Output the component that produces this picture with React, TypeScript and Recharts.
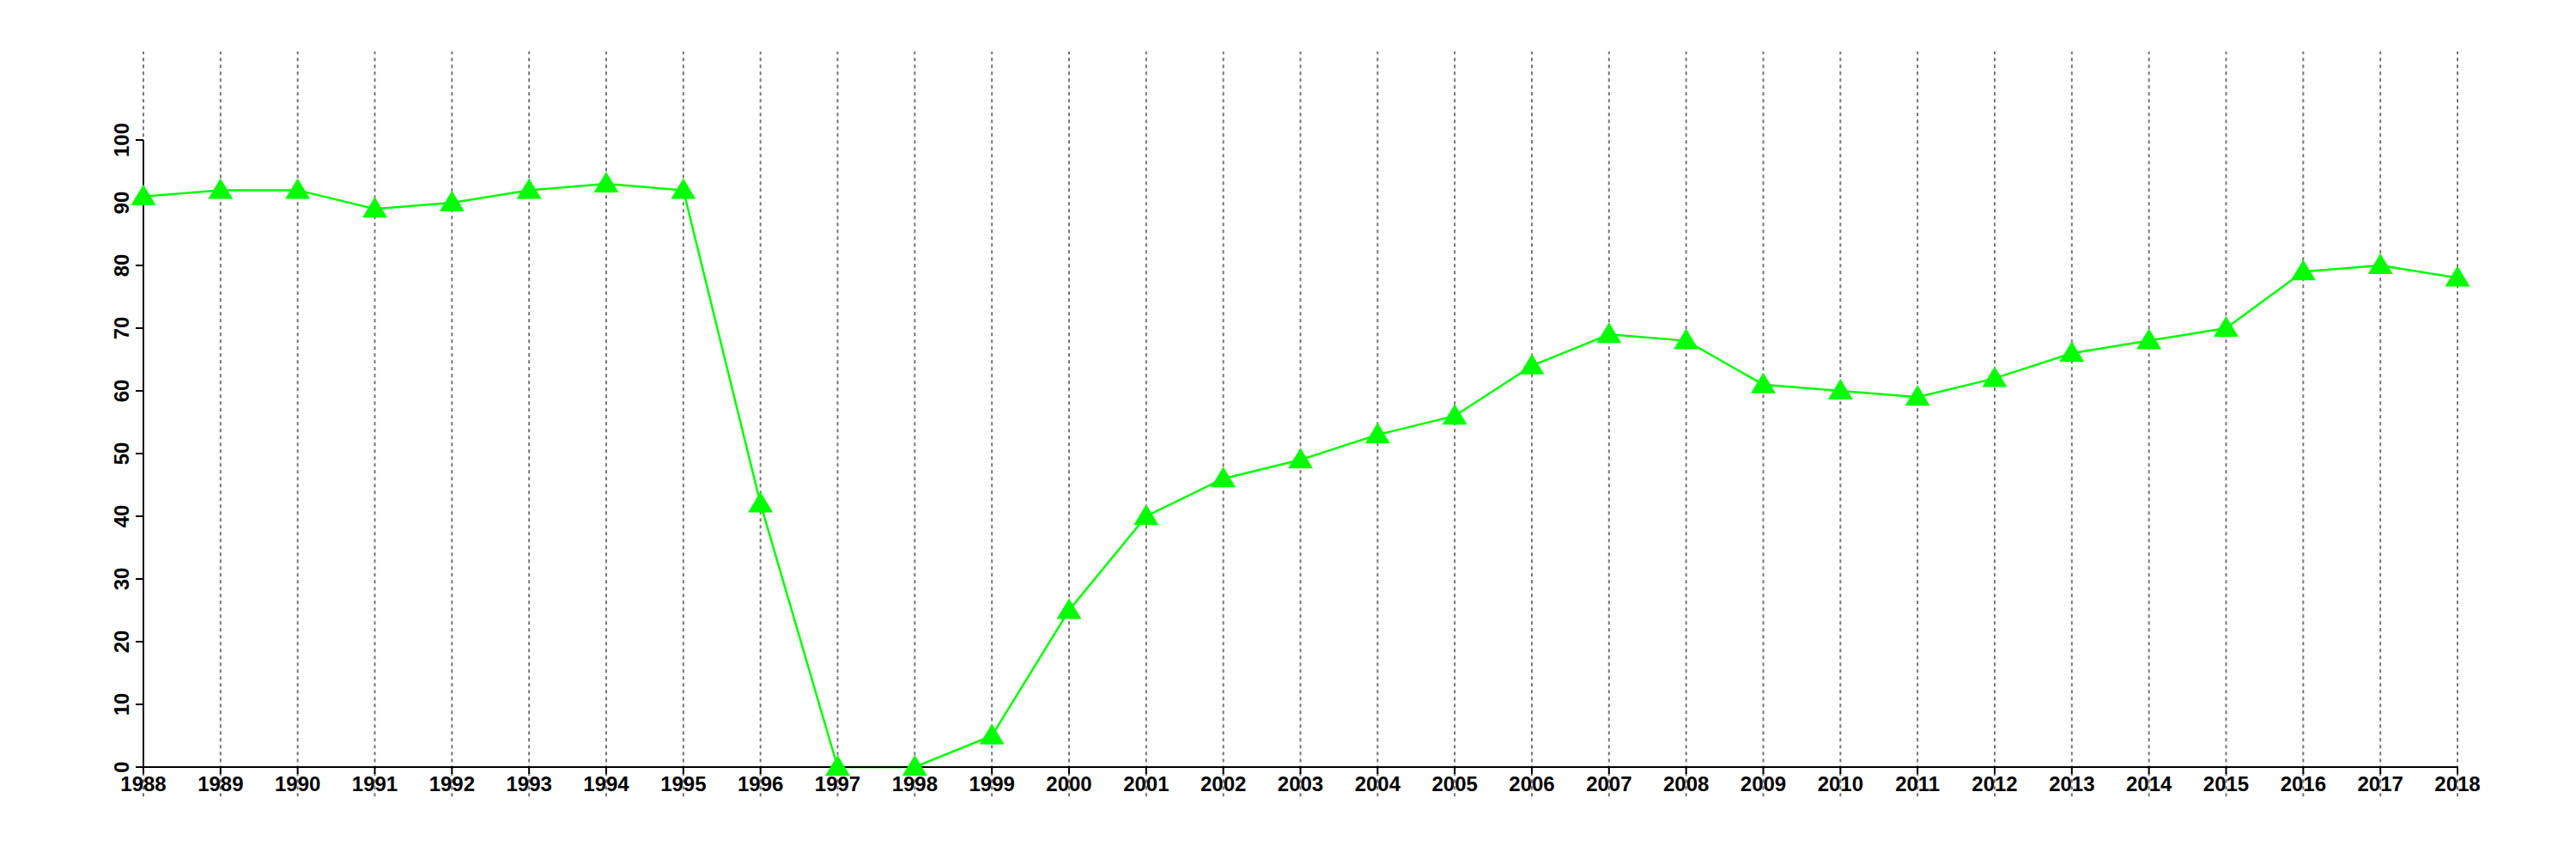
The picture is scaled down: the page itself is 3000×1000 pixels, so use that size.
import React from 'react';
import { LineChart, Line, XAxis, YAxis, ReferenceLine } from 'recharts';

const years = [
  1988, 1989, 1990, 1991, 1992, 1993, 1994, 1995, 1996, 1997, 1998, 1999, 2000, 2001, 2002, 2003,
  2004, 2005, 2006, 2007, 2008, 2009, 2010, 2011, 2012, 2013, 2014, 2015, 2016, 2017, 2018,
];
const values = [
  91, 92, 92, 89, 90, 92, 93, 92, 42, 0, 0, 5, 25, 40, 46, 49, 53, 56, 64, 69, 68, 61, 60, 59, 62, 66,
  68, 70, 79, 80, 78,
];
const yTicks = [0, 10, 20, 30, 40, 50, 60, 70, 80, 90, 100];
// gridlines run past the axis range, like the source
const gridTop = 114.1;
const gridBottom = -4.7;

const data = years.map((year, i) => ({ year, value: values[i] }));

const FONT = '"Liberation Sans", Arial, sans-serif';

function Triangle(props: any) {
  const { cx, cy } = props;
  if (cx == null || cy == null) return null;
  return (
    <polygon
      points={`${cx},${cy - 14} ${cx - 14.5},${cy + 10} ${cx + 14.5},${cy + 10}`}
      fill="#00ff00"
      stroke="none"
    />
  );
}

function XTick(props: any) {
  const { x, y, payload } = props;
  return (
    <text x={x} y={y + 18} textAnchor="middle" fontFamily={FONT} fontWeight="bold" fontSize={24} fill="#000">
      {payload.value}
    </text>
  );
}

function YTick(props: any) {
  const { x, y, payload } = props;
  return (
    <text
      transform={`translate(${x - 6}, ${y}) rotate(-90)`}
      textAnchor="middle"
      fontFamily={FONT}
      fontWeight="bold"
      fontSize={24}
      fill="#000"
    >
      {payload.value}
    </text>
  );
}

export default function App() {
  return (
    <div style={{ position: 'absolute', left: 0, top: 0, width: 3000, height: 1000, background: '#fff' }}>
      <LineChart width={3000} height={1000} data={data} margin={{ top: 163, right: 138, bottom: 67, left: 107 }}>
        <XAxis
          dataKey="year"
          type="number"
          domain={[1988, 2018]}
          ticks={years}
          interval={0}
          height={40}
          tick={<XTick />}
          tickSize={8}
          axisLine={{ stroke: '#000', strokeWidth: 2 }}
          tickLine={{ stroke: '#000', strokeWidth: 2 }}
        />
        <YAxis
          type="number"
          domain={[0, 100]}
          ticks={yTicks}
          interval={0}
          width={60}
          tick={<YTick />}
          tickSize={9}
          axisLine={{ stroke: '#000', strokeWidth: 2 }}
          tickLine={{ stroke: '#000', strokeWidth: 2 }}
        />
        {years.map((yr) => (
          <ReferenceLine
            key={yr}
            segment={[
              { x: yr, y: gridBottom },
              { x: yr, y: gridTop },
            ]}
            ifOverflow="visible"
            stroke="#777"
            strokeWidth={2}
            strokeDasharray="4 4"
          />
        ))}
        <Line
          dataKey="value"
          type="linear"
          stroke="#00ff00"
          strokeWidth={2.5}
          dot={<Triangle />}
          activeDot={false}
          isAnimationActive={false}
        />
      </LineChart>
    </div>
  );
}
